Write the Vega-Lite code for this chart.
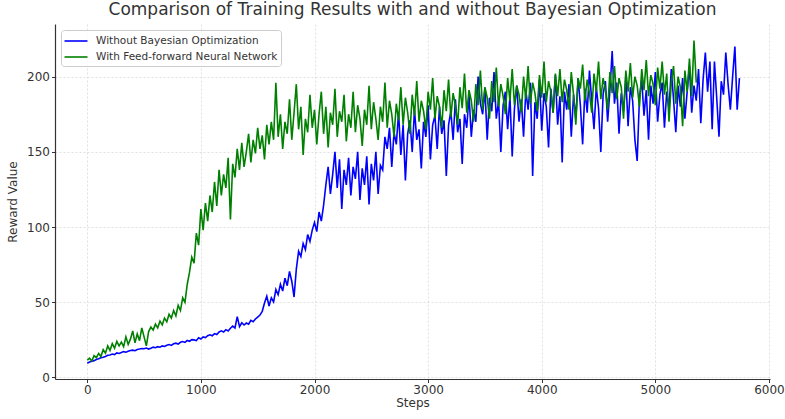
{
  "$schema": "https://vega.github.io/schema/vega-lite/v6.json",
  "width": 715,
  "height": 355,
  "autosize": "none",
  "padding": {"left": 55, "top": 24, "right": 15, "bottom": 40},
  "background": "white",
  "title": {"text": "Comparison of Training Results with and without Bayesian Optimization", "font": "DejaVu Sans", "fontSize": 17, "fontWeight": "normal", "color": "#333333", "anchor": "middle", "offset": 5},
  "config": {
    "view": {"stroke": null},
    "font": "DejaVu Sans",
    "axis": {"labelFont": "DejaVu Sans", "titleFont": "DejaVu Sans", "labelFontSize": 12, "titleFontSize": 12, "titleFontWeight": "normal", "labelColor": "#333333", "titleColor": "#333333", "domainColor": "#333333", "domainWidth": 1.2, "tickColor": "#333333", "tickSize": 3.5, "labelPadding": 2, "gridColor": "#d4d4d4", "gridDash": [2, 2], "gridWidth": 0.7},
    "legend": {"labelFont": "DejaVu Sans", "labelFontSize": 10.5, "labelColor": "#333333"}
  },
  "data": {"values": [
    {"s":0,"b":9.5,"g":11.5},{"s":20,"b":10.3,"g":12.8},{"s":40,"b":10.8,"g":11.0},{"s":60,"b":11.2,"g":14.5},{"s":80,"b":12.0,"g":13.2},
    {"s":100,"b":12.4,"g":16.0},{"s":120,"b":13.1,"g":14.0},{"s":140,"b":13.5,"g":18.5},{"s":160,"b":14.0,"g":16.2},{"s":180,"b":14.8,"g":21.0},
    {"s":200,"b":15.0,"g":18.0},{"s":220,"b":15.6,"g":22.5},{"s":240,"b":15.2,"g":19.5},{"s":260,"b":16.3,"g":24.0},{"s":280,"b":16.0,"g":21.0},
    {"s":300,"b":16.6,"g":23.5},{"s":320,"b":17.2,"g":20.5},{"s":340,"b":16.8,"g":27.0},{"s":360,"b":17.5,"g":22.0},{"s":380,"b":17.9,"g":25.5},
    {"s":400,"b":18.2,"g":31.0},{"s":420,"b":17.8,"g":23.0},{"s":440,"b":18.6,"g":29.0},{"s":460,"b":18.9,"g":24.5},{"s":480,"b":19.3,"g":33.0},
    {"s":500,"b":19.1,"g":27.0},{"s":520,"b":19.6,"g":21.0},{"s":540,"b":18.9,"g":30.5},{"s":560,"b":19.5,"g":33.5},{"s":580,"b":20.2,"g":31.5},
    {"s":600,"b":19.8,"g":35.5},{"s":620,"b":20.5,"g":33.0},{"s":640,"b":20.1,"g":37.5},{"s":660,"b":21.0,"g":35.0},{"s":680,"b":20.6,"g":39.5},
    {"s":700,"b":21.4,"g":37.0},{"s":720,"b":21.9,"g":42.0},{"s":740,"b":21.3,"g":39.5},{"s":760,"b":22.4,"g":44.5},{"s":780,"b":22.8,"g":41.0},
    {"s":800,"b":22.2,"g":48.0},{"s":820,"b":23.4,"g":44.5},{"s":840,"b":23.9,"g":53.0},{"s":860,"b":23.3,"g":50.0},{"s":880,"b":24.6,"g":62.0},
    {"s":900,"b":24.1,"g":70.0},{"s":920,"b":25.2,"g":80.0},{"s":940,"b":25.0,"g":76.0},{"s":960,"b":24.5,"g":96.0},{"s":980,"b":26.4,"g":88.0},
    {"s":1000,"b":25.6,"g":112.0},{"s":1020,"b":27.0,"g":98.0},{"s":1040,"b":26.5,"g":116.0},{"s":1060,"b":27.8,"g":104.0},{"s":1080,"b":28.4,"g":121.0},
    {"s":1100,"b":27.7,"g":110.0},{"s":1120,"b":29.2,"g":130.0},{"s":1140,"b":28.6,"g":114.0},{"s":1160,"b":30.3,"g":138.0},{"s":1180,"b":31.0,"g":121.0},
    {"s":1200,"b":30.2,"g":135.0},{"s":1220,"b":31.8,"g":126.0},{"s":1240,"b":30.9,"g":146.0},{"s":1260,"b":32.7,"g":105.0},{"s":1280,"b":34.2,"g":142.0},
    {"s":1300,"b":32.9,"g":133.0},{"s":1320,"b":40.5,"g":152.0},{"s":1340,"b":33.8,"g":138.0},{"s":1360,"b":36.4,"g":156.0},{"s":1380,"b":34.9,"g":140.0},
    {"s":1400,"b":36.2,"g":150.0},{"s":1420,"b":35.4,"g":162.0},{"s":1440,"b":38.0,"g":143.0},{"s":1460,"b":37.1,"g":158.0},{"s":1480,"b":38.9,"g":149.0},
    {"s":1500,"b":40.2,"g":166.0},{"s":1520,"b":41.5,"g":152.0},{"s":1540,"b":44.0,"g":161.0},{"s":1560,"b":49.5,"g":145.0},{"s":1580,"b":54.0,"g":168.0},
    {"s":1600,"b":47.5,"g":155.0},{"s":1620,"b":53.0,"g":170.0},{"s":1640,"b":50.2,"g":158.0},{"s":1660,"b":58.5,"g":196.0},{"s":1680,"b":55.0,"g":160.0},
    {"s":1700,"b":62.0,"g":175.0},{"s":1720,"b":57.5,"g":152.0},{"s":1740,"b":66.0,"g":170.0},{"s":1760,"b":61.0,"g":162.0},{"s":1780,"b":70.5,"g":185.0},
    {"s":1800,"b":64.0,"g":158.0},{"s":1820,"b":53.5,"g":176.0},{"s":1840,"b":72.0,"g":195.0},{"s":1860,"b":84.0,"g":165.0},{"s":1880,"b":80.5,"g":180.0},
    {"s":1900,"b":89.0,"g":148.0},{"s":1920,"b":85.0,"g":172.0},{"s":1940,"b":95.0,"g":163.0},{"s":1960,"b":90.5,"g":188.0},{"s":1980,"b":98.0,"g":166.0},
    {"s":2000,"b":103.0,"g":178.0},{"s":2020,"b":97.0,"g":155.0},{"s":2040,"b":110.0,"g":175.0},{"s":2060,"b":104.0,"g":190.0},{"s":2080,"b":114.5,"g":162.0},
    {"s":2100,"b":128.0,"g":180.0},{"s":2120,"b":140.0,"g":153.0},{"s":2140,"b":122.0,"g":176.0},{"s":2160,"b":135.0,"g":168.0},{"s":2180,"b":150.0,"g":192.0},
    {"s":2200,"b":126.0,"g":160.0},{"s":2220,"b":145.0,"g":177.0},{"s":2240,"b":112.0,"g":170.0},{"s":2260,"b":138.0,"g":188.0},{"s":2280,"b":128.0,"g":157.0},
    {"s":2300,"b":146.0,"g":175.0},{"s":2320,"b":121.0,"g":166.0},{"s":2340,"b":140.0,"g":190.0},{"s":2360,"b":132.0,"g":163.0},{"s":2380,"b":150.0,"g":181.0},
    {"s":2400,"b":118.0,"g":172.0},{"s":2420,"b":139.0,"g":154.0},{"s":2440,"b":128.0,"g":178.0},{"s":2460,"b":147.0,"g":168.0},{"s":2480,"b":115.0,"g":194.0},
    {"s":2500,"b":142.0,"g":165.0},{"s":2520,"b":131.0,"g":183.0},{"s":2540,"b":150.0,"g":172.0},{"s":2560,"b":122.0,"g":158.0},{"s":2580,"b":141.0,"g":180.0},
    {"s":2600,"b":138.0,"g":170.0},{"s":2620,"b":160.0,"g":196.0},{"s":2640,"b":152.0,"g":166.0},{"s":2660,"b":166.0,"g":184.0},{"s":2680,"b":140.0,"g":175.0},
    {"s":2700,"b":163.0,"g":160.0},{"s":2720,"b":155.0,"g":182.0},{"s":2740,"b":176.0,"g":171.0},{"s":2760,"b":148.0,"g":193.0},{"s":2780,"b":168.0,"g":168.0},
    {"s":2800,"b":131.0,"g":186.0},{"s":2820,"b":162.0,"g":176.0},{"s":2840,"b":171.0,"g":162.0},{"s":2860,"b":150.0,"g":188.0},{"s":2880,"b":178.0,"g":174.0},
    {"s":2900,"b":158.0,"g":197.0},{"s":2920,"b":165.0,"g":170.0},{"s":2940,"b":139.0,"g":184.0},{"s":2960,"b":170.0,"g":177.0},{"s":2980,"b":160.0,"g":165.0},
    {"s":3000,"b":181.0,"g":190.0},{"s":3020,"b":145.0,"g":178.0},{"s":3040,"b":168.0,"g":199.0},{"s":3060,"b":174.0,"g":172.0},{"s":3080,"b":152.0,"g":187.0},
    {"s":3100,"b":180.0,"g":180.0},{"s":3120,"b":162.0,"g":166.0},{"s":3140,"b":171.0,"g":191.0},{"s":3160,"b":134.0,"g":177.0},{"s":3180,"b":168.0,"g":198.0},
    {"s":3200,"b":177.0,"g":173.0},{"s":3220,"b":158.0,"g":189.0},{"s":3240,"b":185.0,"g":181.0},{"s":3260,"b":163.0,"g":168.0},{"s":3280,"b":172.0,"g":193.0},
    {"s":3300,"b":142.0,"g":179.0},{"s":3320,"b":175.0,"g":202.0},{"s":3340,"b":166.0,"g":176.0},{"s":3360,"b":188.0,"g":191.0},{"s":3380,"b":160.0,"g":184.0},
    {"s":3400,"b":178.0,"g":170.0},{"s":3420,"b":170.0,"g":195.0},{"s":3440,"b":200.0,"g":181.0},{"s":3460,"b":182.0,"g":204.0},{"s":3480,"b":175.0,"g":178.0},
    {"s":3500,"b":192.0,"g":193.0},{"s":3520,"b":158.0,"g":186.0},{"s":3540,"b":186.0,"g":172.0},{"s":3560,"b":177.0,"g":197.0},{"s":3580,"b":203.0,"g":183.0},
    {"s":3600,"b":172.0,"g":206.0},{"s":3620,"b":184.0,"g":180.0},{"s":3640,"b":150.0,"g":195.0},{"s":3660,"b":181.0,"g":187.0},{"s":3680,"b":190.0,"g":175.0},
    {"s":3700,"b":165.0,"g":199.0},{"s":3720,"b":187.0,"g":184.0},{"s":3740,"b":147.0,"g":205.0},{"s":3760,"b":179.0,"g":181.0},{"s":3780,"b":194.0,"g":194.0},
    {"s":3800,"b":170.0,"g":188.0},{"s":3820,"b":185.0,"g":176.0},{"s":3840,"b":160.0,"g":200.0},{"s":3860,"b":191.0,"g":185.0},{"s":3880,"b":178.0,"g":207.0},
    {"s":3900,"b":196.0,"g":182.0},{"s":3920,"b":134.0,"g":196.0},{"s":3940,"b":183.0,"g":189.0},{"s":3960,"b":172.0,"g":177.0},{"s":3980,"b":198.0,"g":201.0},
    {"s":4000,"b":164.0,"g":186.0},{"s":4020,"b":189.0,"g":210.0},{"s":4040,"b":180.0,"g":183.0},{"s":4060,"b":153.0,"g":197.0},{"s":4080,"b":192.0,"g":190.0},
    {"s":4100,"b":176.0,"g":176.0},{"s":4120,"b":201.0,"g":202.0},{"s":4140,"b":168.0,"g":187.0},{"s":4160,"b":187.0,"g":205.0},{"s":4180,"b":143.0,"g":183.0},
    {"s":4200,"b":190.0,"g":198.0},{"s":4220,"b":178.0,"g":191.0},{"s":4240,"b":195.0,"g":178.0},{"s":4260,"b":160.0,"g":203.0},{"s":4280,"b":188.0,"g":188.0},
    {"s":4300,"b":172.0,"g":168.0},{"s":4320,"b":199.0,"g":199.0},{"s":4340,"b":181.0,"g":192.0},{"s":4360,"b":155.0,"g":208.0},{"s":4380,"b":192.0,"g":184.0},
    {"s":4400,"b":176.0,"g":198.0},{"s":4420,"b":204.0,"g":189.0},{"s":4440,"b":184.0,"g":176.0},{"s":4460,"b":165.0,"g":202.0},{"s":4480,"b":193.0,"g":190.0},
    {"s":4500,"b":179.0,"g":210.0},{"s":4520,"b":150.0,"g":185.0},{"s":4540,"b":188.0,"g":199.0},{"s":4560,"b":197.0,"g":192.0},{"s":4580,"b":170.0,"g":178.0},
    {"s":4600,"b":191.0,"g":203.0},{"s":4620,"b":217.0,"g":189.0},{"s":4640,"b":182.0,"g":207.0},{"s":4660,"b":196.0,"g":185.0},{"s":4680,"b":162.0,"g":199.0},
    {"s":4700,"b":189.0,"g":193.0},{"s":4720,"b":177.0,"g":172.0},{"s":4740,"b":200.0,"g":204.0},{"s":4760,"b":167.0,"g":190.0},{"s":4780,"b":193.0,"g":209.0},
    {"s":4800,"b":184.0,"g":186.0},{"s":4820,"b":158.0,"g":200.0},{"s":4840,"b":144.0,"g":194.0},{"s":4860,"b":186.0,"g":180.0},{"s":4880,"b":198.0,"g":205.0},
    {"s":4900,"b":174.0,"g":191.0},{"s":4920,"b":191.0,"g":211.0},{"s":4940,"b":158.0,"g":187.0},{"s":4960,"b":194.0,"g":201.0},{"s":4980,"b":182.0,"g":195.0},
    {"s":5000,"b":203.0,"g":181.0},{"s":5020,"b":170.0,"g":206.0},{"s":5040,"b":188.0,"g":192.0},{"s":5060,"b":196.0,"g":210.0},{"s":5080,"b":166.0,"g":188.0},
    {"s":5100,"b":190.0,"g":202.0},{"s":5120,"b":178.0,"g":170.0},{"s":5140,"b":205.0,"g":196.0},{"s":5160,"b":185.0,"g":207.0},{"s":5180,"b":163.0,"g":182.0},
    {"s":5200,"b":194.0,"g":200.0},{"s":5220,"b":180.0,"g":193.0},{"s":5240,"b":199.0,"g":167.0},{"s":5260,"b":172.0,"g":204.0},{"s":5280,"b":190.0,"g":190.0},
    {"s":5300,"b":207.0,"g":212.0},{"s":5320,"b":176.0,"g":187.0},{"s":5340,"b":194.0,"g":224.0},{"s":5360,"b":184.0,"g":196.0},{"s":5380,"b":205.0},
    {"s":5400,"b":169.0},{"s":5420,"b":198.0},{"s":5440,"b":216.0},{"s":5460,"b":190.0},{"s":5480,"b":210.0},
    {"s":5500,"b":165.0},{"s":5520,"b":210.0},{"s":5540,"b":186.0},{"s":5560,"b":160.0},{"s":5580,"b":197.0},
    {"s":5600,"b":188.0},{"s":5620,"b":216.0},{"s":5640,"b":195.0},{"s":5660,"b":178.0},{"s":5680,"b":200.0},
    {"s":5700,"b":220.0},{"s":5720,"b":178.0},{"s":5740,"b":199.0}
  ]},
  "encoding": {
    "x": {"field": "s", "type": "quantitative", "title": "Steps", "scale": {"domain": [-284, 6009], "nice": false, "zero": false}, "axis": {"values": [0, 1000, 2000, 3000, 4000, 5000, 6000], "format": "d", "grid": true, "titlePadding": 2}},
    "color": {"type": "nominal", "scale": {"domain": ["Without Bayesian Optimization", "With Feed-forward Neural Network"], "range": ["#0000ff", "#008000"]},
      "legend": {"title": null, "orient": "top-left", "offset": 6, "symbolType": "M-1.64,0L1.64,0", "symbolSize": 196, "symbolStrokeWidth": 1.6, "symbolOffset": 4, "labelOffset": 12, "labelLimit": 0, "rowPadding": 2, "padding": 3, "strokeColor": "#cccccc", "fillColor": "rgba(255,255,255,0.8)", "cornerRadius": 3}}
  },
  "layer": [
    {"mark": {"type": "line", "strokeWidth": 1.6, "clip": true},
     "encoding": {
       "y": {"field": "b", "type": "quantitative", "title": "Reward Value", "scale": {"domain": [-1, 235], "nice": false, "zero": false}, "axis": {"values": [0, 50, 100, 150, 200], "grid": true, "titlePadding": 7}},
       "color": {"datum": "Without Bayesian Optimization"}
     }},
    {"mark": {"type": "line", "strokeWidth": 1.6, "clip": true},
     "encoding": {
       "y": {"field": "g", "type": "quantitative"},
       "color": {"datum": "With Feed-forward Neural Network"}
     }}
  ]
}
